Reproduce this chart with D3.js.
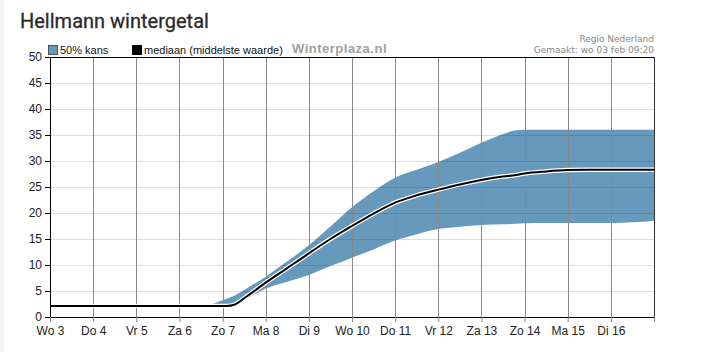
<!DOCTYPE html>
<html><head><meta charset="utf-8">
<script src="https://cdn.jsdelivr.net/npm/d3@7"></script>
<style>
html,body{margin:0;padding:0;background:#fff;}
svg{display:block;}
</style></head>
<body>
<script>
// Data (day offset from Wo 3 00:00)
const dayLabels = ["Wo 3","Do 4","Vr 5","Za 6","Zo 7","Ma 8","Di 9","Wo 10","Do 11","Vr 12","Za 13","Zo 14","Ma 15","Di 16"];
const yTicks = [0,5,10,15,20,25,30,35,40,45,50];
const tOffsets = [0,0.5,1,1.5,2,2.5,3,3.5,3.66,3.8,4,4.1,4.25,4.5,5,5.5,6,6.5,7,7.5,8,8.5,9,9.5,10,10.5,10.8,11,11.5,12,12.5,13,13.5,14];
const median   = [2.1,2.1,2.1,2.1,2.1,2.1,2.1,2.1,2.1,2.1,2.1,2.12,2.3,3.6,6.6,9.4,12.25,15.0,17.5,19.9,22.0,23.4,24.5,25.5,26.35,27.0,27.3,27.6,28.0,28.25,28.3,28.3,28.3,28.3];
const high     = [2.25,2.25,2.25,2.25,2.25,2.25,2.25,2.25,2.3,2.6,3.2,3.5,4.0,5.2,7.75,10.7,13.8,17.4,21.1,24.2,26.8,28.3,29.8,31.6,33.5,35.2,35.9,36,36,36,36,36,36,36];
const low      = [1.9,1.9,1.9,1.9,1.9,1.9,1.9,1.9,1.9,1.9,1.95,2.0,2.2,3.2,5.5,6.8,8.1,9.8,11.4,13.0,14.7,15.9,16.9,17.35,17.7,17.85,17.95,18.05,18.1,18.1,18.1,18.1,18.2,18.5];

const W = 724, H = 352;
const m = {left:50, right:70, top:57, bottom:35};
const svg = d3.select("body").append("svg").attr("width",W).attr("height",H);

svg.append("rect").attr("x",0).attr("y",0).attr("width",4).attr("height",H).attr("fill","#f2f2f2");

const x = d3.scaleLinear().domain([0,14]).range([m.left, W-m.right]);
const y = d3.scaleLinear().domain([0,50]).range([H-m.bottom, m.top]);

const pts = tOffsets.map((t,i)=>({t, med:median[i], hi:high[i], lo:low[i]}));

// band
svg.append("path").datum(pts)
  .attr("d", d3.area().x(d=>x(d.t)).y0(d=>y(d.lo)).y1(d=>y(d.hi)).curve(d3.curveMonotoneX))
  .attr("fill","#6699bb");

// horizontal grid
svg.append("g").selectAll("line").data(yTicks.filter(v=>v>0&&v<50)).join("line")
  .attr("x1",m.left).attr("x2",W-m.right).attr("y1",d=>y(d)+0.5).attr("y2",d=>y(d)+0.5)
  .attr("stroke","rgba(0,0,0,0.13)").attr("stroke-width",1);

// vertical grid
svg.append("g").selectAll("line").data(d3.range(1,14)).join("line")
  .attr("x1",d=>Math.round(x(d))+0.5).attr("x2",d=>Math.round(x(d))+0.5).attr("y1",m.top).attr("y2",H-m.bottom)
  .attr("stroke","#888").attr("stroke-width",1);

// median line
const line = d3.line().x(d=>x(d.t)).y(d=>y(d.med)).curve(d3.curveMonotoneX);
svg.append("path").datum(pts).attr("d",line).attr("fill","none").attr("stroke","#fff").attr("stroke-width",4.5);
svg.append("path").datum(pts).attr("d",line).attr("fill","none").attr("stroke","#000").attr("stroke-width",2);

// frame top & right
svg.append("line").attr("x1",m.left).attr("x2",W-m.right).attr("y1",m.top+0.5).attr("y2",m.top+0.5).attr("stroke","#000");
svg.append("line").attr("x1",W-m.right+0.5).attr("x2",W-m.right+0.5).attr("y1",m.top).attr("y2",H-m.bottom).attr("stroke","#333");

// axes
const xAxis = d3.axisBottom(x).tickValues(d3.range(0,15)).tickSize(5).tickSizeOuter(0)
  .tickFormat(d=>dayLabels[d]||"");
const gx = svg.append("g").attr("transform",`translate(0,${H-m.bottom})`).call(xAxis);
gx.select(".domain").attr("stroke","#000");
gx.selectAll(".tick line").attr("stroke","#888");
gx.selectAll("text").attr("font-family","Liberation Sans, Arial, sans-serif").attr("font-size",12).attr("fill","#222").attr("dy","0.85em");

const yAxis = d3.axisLeft(y).tickValues(yTicks).tickSize(5).tickSizeOuter(0);
const gy = svg.append("g").attr("transform",`translate(${m.left},0)`).call(yAxis);
gy.select(".domain").attr("stroke","#000");
gy.selectAll(".tick line").attr("stroke","#000");
gy.selectAll("text").attr("font-family","Liberation Sans, Arial, sans-serif").attr("font-size",12).attr("fill","#222");

// title
svg.append("text").attr("x",20).attr("y",28).text("Hellmann wintergetal")
  .attr("font-family","Roboto, sans-serif").attr("font-size",20).attr("fill","#2a2a2a")
  .attr("stroke","#2a2a2a").attr("stroke-width",0.3);

// legend
svg.append("rect").attr("x",48.5).attr("y",45.5).attr("width",9).attr("height",9).attr("fill","#6699bb").attr("stroke","#333").attr("stroke-width",0.8);
svg.append("text").attr("x",60).attr("y",54).text("50% kans")
  .attr("font-family","Liberation Sans, Arial, sans-serif").attr("font-size",11).attr("fill","#111");
svg.append("rect").attr("x",132).attr("y",45).attr("width",10).attr("height",10).attr("fill","#000");
svg.append("text").attr("x",144).attr("y",54).text("mediaan (middelste waarde)")
  .attr("font-family","Liberation Sans, Arial, sans-serif").attr("font-size",11).attr("fill","#111");

svg.append("text").attr("x",292).attr("y",53).text("Winterplaza.nl")
  .attr("font-family","Liberation Sans, Arial, sans-serif").attr("font-weight","bold").attr("font-size",13)
  .attr("letter-spacing",0.5).attr("fill","#a0a0a0");

svg.append("text").attr("x",654).attr("y",42).attr("text-anchor","end").text("Regio Nederland")
  .attr("font-family","DejaVu Sans, sans-serif").attr("font-size",9).attr("fill","#888");
svg.append("text").attr("x",654).attr("y",53).attr("text-anchor","end").text("Gemaakt: wo 03 feb 09:20")
  .attr("font-family","DejaVu Sans, sans-serif").attr("font-size",9).attr("fill","#888");
</script>
</body></html>
